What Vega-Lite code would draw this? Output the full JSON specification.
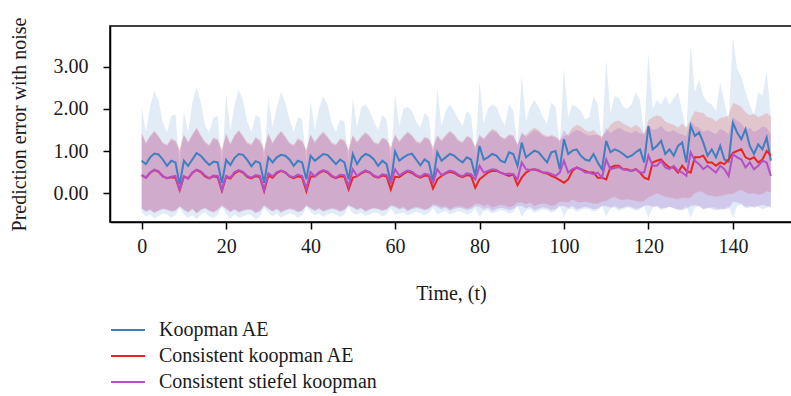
{
"$schema": "https://vega.github.io/schema/vega-lite/v6.json",
"width": 682, "height": 196,
"autosize": {"type": "none"},
"padding": {"left": 110, "top": 26, "right": 0, "bottom": 174},
"background": "white",
"config": {
  "view": {"stroke": "black", "strokeWidth": 1.5},
  "font": "Liberation Serif",
  "axis": {"labelFont": "Liberation Serif", "titleFont": "Liberation Serif", "labelFontSize": 20, "titleFontSize": 20, "titleFontWeight": "normal", "labelColor": "#1a1a1a", "titleColor": "#1a1a1a", "domainColor": "black", "domainWidth": 1.5, "tickColor": "black", "tickWidth": 1.5, "tickSize": 7, "grid": false},
  "legend": {"labelFont": "Liberation Serif", "labelFontSize": 20, "labelColor": "#1a1a1a", "labelLimit": 0}
},
"data": {"values": [
{"t":0,"b":0.77,"bl":-0.45,"bh":2.05,"r":0.43,"rl":-0.35,"rh":1.44,"p":0.43,"pl":-0.37,"ph":1.40},
{"t":1,"b":0.69,"bl":-0.55,"bh":1.45,"r":0.37,"rl":-0.42,"rh":1.20,"p":0.37,"pl":-0.44,"ph":1.17},
{"t":2,"b":0.85,"bl":-0.50,"bh":2.05,"r":0.48,"rl":-0.38,"rh":1.36,"p":0.49,"pl":-0.40,"ph":1.33},
{"t":3,"b":0.94,"bl":-0.60,"bh":2.43,"r":0.55,"rl":-0.45,"rh":1.48,"p":0.56,"pl":-0.47,"ph":1.45},
{"t":4,"b":0.92,"bl":-0.55,"bh":2.19,"r":0.51,"rl":-0.40,"rh":1.36,"p":0.52,"pl":-0.42,"ph":1.33},
{"t":5,"b":0.80,"bl":-0.48,"bh":1.68,"r":0.40,"rl":-0.36,"rh":1.20,"p":0.41,"pl":-0.38,"ph":1.18},
{"t":6,"b":0.65,"bl":-0.50,"bh":1.44,"r":0.36,"rl":-0.38,"rh":1.15,"p":0.35,"pl":-0.40,"ph":1.12},
{"t":7,"b":0.77,"bl":-0.58,"bh":1.83,"r":0.38,"rl":-0.42,"rh":1.30,"p":0.39,"pl":-0.44,"ph":1.27},
{"t":8,"b":0.73,"bl":-0.52,"bh":1.87,"r":0.37,"rl":-0.40,"rh":1.25,"p":0.41,"pl":-0.42,"ph":1.22},
{"t":9,"b":0.21,"bl":-0.35,"bh":0.60,"r":0.07,"rl":-0.30,"rh":1.05,"p":0.09,"pl":-0.32,"ph":1.00},
{"t":10,"b":0.77,"bl":-0.50,"bh":1.95,"r":0.40,"rl":-0.38,"rh":1.40,"p":0.40,"pl":-0.40,"ph":1.37},
{"t":11,"b":0.65,"bl":-0.58,"bh":1.44,"r":0.35,"rl":-0.44,"rh":1.22,"p":0.35,"pl":-0.46,"ph":1.19},
{"t":12,"b":0.80,"bl":-0.52,"bh":2.15,"r":0.48,"rl":-0.36,"rh":1.40,"p":0.49,"pl":-0.38,"ph":1.37},
{"t":13,"b":0.95,"bl":-0.62,"bh":2.51,"r":0.55,"rl":-0.46,"rh":1.56,"p":0.56,"pl":-0.48,"ph":1.52},
{"t":14,"b":0.89,"bl":-0.50,"bh":2.15,"r":0.50,"rl":-0.38,"rh":1.38,"p":0.52,"pl":-0.40,"ph":1.35},
{"t":15,"b":0.77,"bl":-0.45,"bh":1.60,"r":0.40,"rl":-0.34,"rh":1.22,"p":0.42,"pl":-0.36,"ph":1.19},
{"t":16,"b":0.67,"bl":-0.55,"bh":1.44,"r":0.35,"rl":-0.40,"rh":1.15,"p":0.36,"pl":-0.42,"ph":1.12},
{"t":17,"b":0.75,"bl":-0.60,"bh":1.79,"r":0.40,"rl":-0.44,"rh":1.32,"p":0.42,"pl":-0.46,"ph":1.29},
{"t":18,"b":0.73,"bl":-0.50,"bh":1.83,"r":0.38,"rl":-0.38,"rh":1.28,"p":0.41,"pl":-0.40,"ph":1.25},
{"t":19,"b":0.24,"bl":-0.33,"bh":0.60,"r":0.06,"rl":-0.28,"rh":1.05,"p":0.08,"pl":-0.30,"ph":1.00},
{"t":20,"b":0.79,"bl":-0.48,"bh":2.35,"r":0.39,"rl":-0.36,"rh":1.42,"p":0.41,"pl":-0.38,"ph":1.38},
{"t":21,"b":0.67,"bl":-0.60,"bh":1.50,"r":0.35,"rl":-0.43,"rh":1.18,"p":0.37,"pl":-0.45,"ph":1.15},
{"t":22,"b":0.84,"bl":-0.50,"bh":2.10,"r":0.47,"rl":-0.37,"rh":1.38,"p":0.50,"pl":-0.39,"ph":1.35},
{"t":23,"b":0.93,"bl":-0.58,"bh":2.45,"r":0.53,"rl":-0.44,"rh":1.50,"p":0.55,"pl":-0.46,"ph":1.47},
{"t":24,"b":0.91,"bl":-0.55,"bh":2.20,"r":0.49,"rl":-0.40,"rh":1.36,"p":0.51,"pl":-0.42,"ph":1.33},
{"t":25,"b":0.79,"bl":-0.50,"bh":1.70,"r":0.39,"rl":-0.37,"rh":1.20,"p":0.41,"pl":-0.39,"ph":1.17},
{"t":26,"b":0.64,"bl":-0.52,"bh":1.45,"r":0.35,"rl":-0.38,"rh":1.16,"p":0.37,"pl":-0.40,"ph":1.13},
{"t":27,"b":0.76,"bl":-0.62,"bh":1.85,"r":0.41,"rl":-0.45,"rh":1.33,"p":0.43,"pl":-0.47,"ph":1.30},
{"t":28,"b":0.72,"bl":-0.55,"bh":1.80,"r":0.38,"rl":-0.41,"rh":1.26,"p":0.41,"pl":-0.43,"ph":1.23},
{"t":29,"b":0.25,"bl":-0.35,"bh":0.70,"r":0.05,"rl":-0.28,"rh":1.05,"p":0.08,"pl":-0.30,"ph":1.00},
{"t":30,"b":0.85,"bl":-0.45,"bh":2.25,"r":0.42,"rl":-0.35,"rh":1.42,"p":0.47,"pl":-0.37,"ph":1.38},
{"t":31,"b":0.73,"bl":-0.55,"bh":1.55,"r":0.37,"rl":-0.42,"rh":1.20,"p":0.40,"pl":-0.44,"ph":1.17},
{"t":32,"b":0.85,"bl":-0.48,"bh":2.05,"r":0.48,"rl":-0.36,"rh":1.36,"p":0.50,"pl":-0.38,"ph":1.33},
{"t":33,"b":0.91,"bl":-0.58,"bh":2.40,"r":0.53,"rl":-0.44,"rh":1.48,"p":0.54,"pl":-0.46,"ph":1.45},
{"t":34,"b":0.89,"bl":-0.52,"bh":2.15,"r":0.49,"rl":-0.39,"rh":1.35,"p":0.50,"pl":-0.41,"ph":1.32},
{"t":35,"b":0.80,"bl":-0.48,"bh":1.75,"r":0.40,"rl":-0.36,"rh":1.20,"p":0.41,"pl":-0.38,"ph":1.17},
{"t":36,"b":0.65,"bl":-0.50,"bh":1.45,"r":0.36,"rl":-0.38,"rh":1.15,"p":0.38,"pl":-0.40,"ph":1.12},
{"t":37,"b":0.77,"bl":-0.58,"bh":1.80,"r":0.40,"rl":-0.43,"rh":1.30,"p":0.44,"pl":-0.45,"ph":1.27},
{"t":38,"b":0.73,"bl":-0.52,"bh":1.75,"r":0.37,"rl":-0.40,"rh":1.25,"p":0.41,"pl":-0.42,"ph":1.22},
{"t":39,"b":0.33,"bl":-0.32,"bh":0.70,"r":0.05,"rl":-0.28,"rh":1.05,"p":0.12,"pl":-0.30,"ph":1.00},
{"t":40,"b":0.89,"bl":-0.45,"bh":2.20,"r":0.40,"rl":-0.34,"rh":1.40,"p":0.50,"pl":-0.36,"ph":1.37},
{"t":41,"b":0.77,"bl":-0.52,"bh":1.50,"r":0.40,"rl":-0.40,"rh":1.22,"p":0.40,"pl":-0.42,"ph":1.19},
{"t":42,"b":0.85,"bl":-0.48,"bh":2.00,"r":0.48,"rl":-0.35,"rh":1.36,"p":0.50,"pl":-0.37,"ph":1.33},
{"t":43,"b":0.93,"bl":-0.56,"bh":2.30,"r":0.53,"rl":-0.42,"rh":1.46,"p":0.55,"pl":-0.44,"ph":1.43},
{"t":44,"b":0.91,"bl":-0.50,"bh":2.10,"r":0.49,"rl":-0.38,"rh":1.35,"p":0.51,"pl":-0.40,"ph":1.32},
{"t":45,"b":0.80,"bl":-0.46,"bh":1.65,"r":0.40,"rl":-0.35,"rh":1.20,"p":0.42,"pl":-0.37,"ph":1.17},
{"t":46,"b":0.69,"bl":-0.50,"bh":1.45,"r":0.36,"rl":-0.37,"rh":1.16,"p":0.37,"pl":-0.39,"ph":1.13},
{"t":47,"b":0.80,"bl":-0.56,"bh":1.75,"r":0.40,"rl":-0.42,"rh":1.30,"p":0.44,"pl":-0.44,"ph":1.27},
{"t":48,"b":0.73,"bl":-0.50,"bh":1.70,"r":0.39,"rl":-0.38,"rh":1.26,"p":0.43,"pl":-0.40,"ph":1.23},
{"t":49,"b":0.33,"bl":-0.32,"bh":0.70,"r":0.09,"rl":-0.27,"rh":1.05,"p":0.17,"pl":-0.29,"ph":1.00},
{"t":50,"b":0.93,"bl":-0.48,"bh":2.26,"r":0.37,"rl":-0.32,"rh":1.38,"p":0.57,"pl":-0.34,"ph":1.35},
{"t":51,"b":0.69,"bl":-0.50,"bh":1.55,"r":0.40,"rl":-0.38,"rh":1.22,"p":0.41,"pl":-0.40,"ph":1.19},
{"t":52,"b":0.85,"bl":-0.46,"bh":2.05,"r":0.47,"rl":-0.34,"rh":1.35,"p":0.49,"pl":-0.36,"ph":1.32},
{"t":53,"b":0.93,"bl":-0.54,"bh":2.10,"r":0.52,"rl":-0.42,"rh":1.45,"p":0.54,"pl":-0.44,"ph":1.42},
{"t":54,"b":0.89,"bl":-0.50,"bh":1.95,"r":0.49,"rl":-0.37,"rh":1.36,"p":0.50,"pl":-0.39,"ph":1.33},
{"t":55,"b":0.80,"bl":-0.45,"bh":1.70,"r":0.40,"rl":-0.34,"rh":1.22,"p":0.42,"pl":-0.36,"ph":1.19},
{"t":56,"b":0.65,"bl":-0.48,"bh":1.50,"r":0.37,"rl":-0.36,"rh":1.18,"p":0.38,"pl":-0.38,"ph":1.15},
{"t":57,"b":0.77,"bl":-0.55,"bh":1.85,"r":0.42,"rl":-0.40,"rh":1.32,"p":0.45,"pl":-0.42,"ph":1.29},
{"t":58,"b":0.69,"bl":-0.50,"bh":1.75,"r":0.40,"rl":-0.37,"rh":1.28,"p":0.43,"pl":-0.39,"ph":1.25},
{"t":59,"b":0.25,"bl":-0.35,"bh":0.70,"r":0.09,"rl":-0.28,"rh":1.10,"p":0.24,"pl":-0.30,"ph":1.05},
{"t":60,"b":0.99,"bl":-0.50,"bh":2.33,"r":0.39,"rl":-0.30,"rh":1.40,"p":0.57,"pl":-0.33,"ph":1.37},
{"t":61,"b":0.77,"bl":-0.48,"bh":1.60,"r":0.38,"rl":-0.36,"rh":1.24,"p":0.42,"pl":-0.39,"ph":1.21},
{"t":62,"b":0.85,"bl":-0.45,"bh":2.00,"r":0.46,"rl":-0.32,"rh":1.36,"p":0.49,"pl":-0.35,"ph":1.33},
{"t":63,"b":0.91,"bl":-0.52,"bh":2.05,"r":0.52,"rl":-0.40,"rh":1.46,"p":0.54,"pl":-0.43,"ph":1.43},
{"t":64,"b":0.94,"bl":-0.48,"bh":1.95,"r":0.48,"rl":-0.35,"rh":1.38,"p":0.51,"pl":-0.38,"ph":1.35},
{"t":65,"b":0.80,"bl":-0.44,"bh":1.70,"r":0.41,"rl":-0.32,"rh":1.24,"p":0.43,"pl":-0.35,"ph":1.21},
{"t":66,"b":0.66,"bl":-0.47,"bh":1.55,"r":0.37,"rl":-0.34,"rh":1.20,"p":0.39,"pl":-0.37,"ph":1.17},
{"t":67,"b":0.80,"bl":-0.52,"bh":1.90,"r":0.42,"rl":-0.38,"rh":1.34,"p":0.46,"pl":-0.41,"ph":1.31},
{"t":68,"b":0.73,"bl":-0.48,"bh":1.80,"r":0.41,"rl":-0.35,"rh":1.30,"p":0.44,"pl":-0.38,"ph":1.27},
{"t":69,"b":0.29,"bl":-0.35,"bh":0.80,"r":0.11,"rl":-0.26,"rh":1.10,"p":0.25,"pl":-0.29,"ph":1.05},
{"t":70,"b":0.97,"bl":-0.50,"bh":2.49,"r":0.33,"rl":-0.28,"rh":1.38,"p":0.57,"pl":-0.32,"ph":1.35},
{"t":71,"b":0.77,"bl":-0.45,"bh":1.60,"r":0.41,"rl":-0.33,"rh":1.26,"p":0.43,"pl":-0.38,"ph":1.23},
{"t":72,"b":0.85,"bl":-0.42,"bh":1.95,"r":0.47,"rl":-0.30,"rh":1.38,"p":0.49,"pl":-0.34,"ph":1.35},
{"t":73,"b":0.93,"bl":-0.50,"bh":2.10,"r":0.51,"rl":-0.38,"rh":1.48,"p":0.54,"pl":-0.42,"ph":1.45},
{"t":74,"b":0.89,"bl":-0.46,"bh":1.95,"r":0.48,"rl":-0.33,"rh":1.40,"p":0.51,"pl":-0.37,"ph":1.37},
{"t":75,"b":0.80,"bl":-0.42,"bh":1.75,"r":0.42,"rl":-0.30,"rh":1.26,"p":0.44,"pl":-0.34,"ph":1.23},
{"t":76,"b":0.73,"bl":-0.45,"bh":1.60,"r":0.38,"rl":-0.32,"rh":1.22,"p":0.40,"pl":-0.36,"ph":1.19},
{"t":77,"b":0.85,"bl":-0.50,"bh":1.95,"r":0.43,"rl":-0.36,"rh":1.36,"p":0.47,"pl":-0.40,"ph":1.33},
{"t":78,"b":0.80,"bl":-0.46,"bh":1.85,"r":0.41,"rl":-0.33,"rh":1.32,"p":0.45,"pl":-0.37,"ph":1.29},
{"t":79,"b":0.41,"bl":-0.35,"bh":0.90,"r":0.13,"rl":-0.25,"rh":1.10,"p":0.33,"pl":-0.30,"ph":1.08},
{"t":80,"b":1.12,"bl":-0.55,"bh":2.64,"r":0.33,"rl":-0.25,"rh":1.35,"p":0.65,"pl":-0.32,"ph":1.40},
{"t":81,"b":0.80,"bl":-0.42,"bh":1.65,"r":0.41,"rl":-0.30,"rh":1.30,"p":0.49,"pl":-0.38,"ph":1.27},
{"t":82,"b":0.85,"bl":-0.40,"bh":2.00,"r":0.49,"rl":-0.26,"rh":1.42,"p":0.53,"pl":-0.34,"ph":1.39},
{"t":83,"b":0.93,"bl":-0.48,"bh":2.10,"r":0.53,"rl":-0.34,"rh":1.52,"p":0.57,"pl":-0.42,"ph":1.48},
{"t":84,"b":0.89,"bl":-0.44,"bh":2.05,"r":0.53,"rl":-0.30,"rh":1.48,"p":0.55,"pl":-0.37,"ph":1.44},
{"t":85,"b":0.77,"bl":-0.40,"bh":1.80,"r":0.49,"rl":-0.27,"rh":1.35,"p":0.49,"pl":-0.34,"ph":1.32},
{"t":86,"b":0.73,"bl":-0.42,"bh":1.60,"r":0.45,"rl":-0.29,"rh":1.30,"p":0.45,"pl":-0.36,"ph":1.27},
{"t":87,"b":0.97,"bl":-0.48,"bh":2.10,"r":0.41,"rl":-0.33,"rh":1.40,"p":0.47,"pl":-0.40,"ph":1.37},
{"t":88,"b":0.93,"bl":-0.44,"bh":1.95,"r":0.45,"rl":-0.30,"rh":1.38,"p":0.45,"pl":-0.37,"ph":1.35},
{"t":89,"b":0.65,"bl":-0.30,"bh":1.10,"r":0.19,"rl":-0.22,"rh":1.15,"p":0.33,"pl":-0.30,"ph":1.15},
{"t":90,"b":1.20,"bl":-0.55,"bh":2.80,"r":0.37,"rl":-0.22,"rh":1.40,"p":0.73,"pl":-0.30,"ph":1.45},
{"t":91,"b":0.85,"bl":-0.40,"bh":1.70,"r":0.49,"rl":-0.26,"rh":1.38,"p":0.57,"pl":-0.36,"ph":1.32},
{"t":92,"b":0.93,"bl":-0.38,"bh":2.05,"r":0.55,"rl":-0.22,"rh":1.48,"p":0.55,"pl":-0.32,"ph":1.42},
{"t":93,"b":1.01,"bl":-0.46,"bh":2.20,"r":0.57,"rl":-0.30,"rh":1.55,"p":0.57,"pl":-0.40,"ph":1.50},
{"t":94,"b":0.97,"bl":-0.42,"bh":2.05,"r":0.53,"rl":-0.26,"rh":1.50,"p":0.55,"pl":-0.36,"ph":1.45},
{"t":95,"b":0.85,"bl":-0.38,"bh":1.80,"r":0.49,"rl":-0.24,"rh":1.40,"p":0.49,"pl":-0.33,"ph":1.36},
{"t":96,"b":0.73,"bl":-0.40,"bh":1.65,"r":0.47,"rl":-0.26,"rh":1.35,"p":0.49,"pl":-0.35,"ph":1.32},
{"t":97,"b":0.97,"bl":-0.46,"bh":2.15,"r":0.41,"rl":-0.30,"rh":1.38,"p":0.46,"pl":-0.40,"ph":1.35},
{"t":98,"b":1.00,"bl":-0.42,"bh":2.05,"r":0.37,"rl":-0.28,"rh":1.35,"p":0.41,"pl":-0.37,"ph":1.32},
{"t":99,"b":0.57,"bl":-0.30,"bh":1.10,"r":0.31,"rl":-0.20,"rh":1.25,"p":0.49,"pl":-0.30,"ph":1.25},
{"t":100,"b":1.28,"bl":-0.55,"bh":2.96,"r":0.25,"rl":-0.20,"rh":1.35,"p":0.77,"pl":-0.30,"ph":1.50},
{"t":101,"b":0.93,"bl":-0.38,"bh":1.80,"r":0.33,"rl":-0.22,"rh":1.40,"p":0.49,"pl":-0.35,"ph":1.35},
{"t":102,"b":1.01,"bl":-0.36,"bh":2.10,"r":0.53,"rl":-0.15,"rh":1.55,"p":0.57,"pl":-0.30,"ph":1.45},
{"t":103,"b":1.04,"bl":-0.44,"bh":2.05,"r":0.61,"rl":-0.20,"rh":1.62,"p":0.61,"pl":-0.38,"ph":1.50},
{"t":104,"b":0.89,"bl":-0.40,"bh":1.95,"r":0.57,"rl":-0.22,"rh":1.58,"p":0.57,"pl":-0.35,"ph":1.47},
{"t":105,"b":0.80,"bl":-0.36,"bh":1.75,"r":0.53,"rl":-0.20,"rh":1.50,"p":0.49,"pl":-0.32,"ph":1.40},
{"t":106,"b":0.77,"bl":-0.38,"bh":1.80,"r":0.49,"rl":-0.22,"rh":1.45,"p":0.49,"pl":-0.34,"ph":1.36},
{"t":107,"b":0.93,"bl":-0.44,"bh":2.30,"r":0.49,"rl":-0.24,"rh":1.50,"p":0.45,"pl":-0.38,"ph":1.38},
{"t":108,"b":0.73,"bl":-0.40,"bh":2.10,"r":0.37,"rl":-0.25,"rh":1.40,"p":0.49,"pl":-0.36,"ph":1.38},
{"t":109,"b":0.57,"bl":-0.30,"bh":1.20,"r":0.37,"rl":-0.20,"rh":1.35,"p":0.37,"pl":-0.30,"ph":1.30},
{"t":110,"b":1.24,"bl":-0.55,"bh":3.17,"r":0.33,"rl":-0.18,"rh":1.45,"p":0.80,"pl":-0.30,"ph":1.55},
{"t":111,"b":0.97,"bl":-0.36,"bh":1.90,"r":0.61,"rl":-0.12,"rh":1.62,"p":0.57,"pl":-0.34,"ph":1.42},
{"t":112,"b":1.04,"bl":-0.34,"bh":2.30,"r":0.65,"rl":-0.08,"rh":1.70,"p":0.60,"pl":-0.30,"ph":1.50},
{"t":113,"b":1.00,"bl":-0.42,"bh":2.25,"r":0.65,"rl":-0.14,"rh":1.72,"p":0.62,"pl":-0.36,"ph":1.55},
{"t":114,"b":0.93,"bl":-0.38,"bh":2.05,"r":0.57,"rl":-0.16,"rh":1.65,"p":0.57,"pl":-0.34,"ph":1.50},
{"t":115,"b":0.85,"bl":-0.34,"bh":2.00,"r":0.57,"rl":-0.14,"rh":1.60,"p":0.55,"pl":-0.30,"ph":1.45},
{"t":116,"b":0.89,"bl":-0.36,"bh":2.10,"r":0.53,"rl":-0.16,"rh":1.55,"p":0.53,"pl":-0.33,"ph":1.42},
{"t":117,"b":0.97,"bl":-0.42,"bh":2.40,"r":0.57,"rl":-0.18,"rh":1.62,"p":0.57,"pl":-0.37,"ph":1.48},
{"t":118,"b":1.04,"bl":-0.38,"bh":2.20,"r":0.49,"rl":-0.20,"rh":1.55,"p":0.49,"pl":-0.35,"ph":1.42},
{"t":119,"b":0.73,"bl":-0.30,"bh":1.40,"r":0.37,"rl":-0.18,"rh":1.40,"p":0.49,"pl":-0.30,"ph":1.40},
{"t":120,"b":1.59,"bl":-0.58,"bh":3.33,"r":0.33,"rl":-0.10,"rh":1.73,"p":0.89,"pl":-0.28,"ph":1.62},
{"t":121,"b":1.04,"bl":-0.34,"bh":2.00,"r":0.73,"rl":-0.05,"rh":1.80,"p":0.65,"pl":-0.32,"ph":1.50},
{"t":122,"b":1.12,"bl":-0.30,"bh":2.20,"r":0.77,"rl":0.00,"rh":1.85,"p":0.65,"pl":-0.30,"ph":1.52},
{"t":123,"b":1.24,"bl":-0.40,"bh":2.10,"r":0.80,"rl":-0.04,"rh":1.82,"p":0.77,"pl":-0.36,"ph":1.60},
{"t":124,"b":0.93,"bl":-0.36,"bh":2.30,"r":0.69,"rl":-0.08,"rh":1.70,"p":0.61,"pl":-0.34,"ph":1.48},
{"t":125,"b":1.04,"bl":-0.32,"bh":2.10,"r":0.61,"rl":-0.10,"rh":1.65,"p":0.57,"pl":-0.32,"ph":1.45},
{"t":126,"b":0.89,"bl":-0.34,"bh":2.25,"r":0.61,"rl":-0.12,"rh":1.62,"p":0.65,"pl":-0.36,"ph":1.50},
{"t":127,"b":1.12,"bl":-0.40,"bh":2.40,"r":0.49,"rl":-0.14,"rh":1.55,"p":0.53,"pl":-0.38,"ph":1.42},
{"t":128,"b":1.20,"bl":-0.38,"bh":1.95,"r":0.65,"rl":-0.10,"rh":1.65,"p":0.49,"pl":-0.40,"ph":1.40},
{"t":129,"b":0.73,"bl":-0.30,"bh":1.50,"r":0.53,"rl":-0.12,"rh":1.55,"p":0.41,"pl":-0.36,"ph":1.35},
{"t":130,"b":1.60,"bl":-0.58,"bh":3.53,"r":0.49,"rl":-0.10,"rh":1.75,"p":0.97,"pl":-0.30,"ph":1.70},
{"t":131,"b":1.36,"bl":-0.34,"bh":2.40,"r":0.85,"rl":0.00,"rh":1.95,"p":0.77,"pl":-0.28,"ph":1.60},
{"t":132,"b":1.44,"bl":-0.30,"bh":2.70,"r":0.85,"rl":0.05,"rh":1.92,"p":0.69,"pl":-0.30,"ph":1.55},
{"t":133,"b":1.20,"bl":-0.38,"bh":2.30,"r":0.89,"rl":0.02,"rh":1.90,"p":0.57,"pl":-0.38,"ph":1.45},
{"t":134,"b":0.89,"bl":-0.36,"bh":2.15,"r":0.73,"rl":-0.04,"rh":1.80,"p":0.65,"pl":-0.34,"ph":1.50},
{"t":135,"b":1.04,"bl":-0.32,"bh":2.10,"r":0.73,"rl":-0.06,"rh":1.78,"p":0.57,"pl":-0.36,"ph":1.45},
{"t":136,"b":0.85,"bl":-0.34,"bh":1.95,"r":0.65,"rl":-0.08,"rh":1.70,"p":0.49,"pl":-0.40,"ph":1.40},
{"t":137,"b":1.12,"bl":-0.40,"bh":2.62,"r":0.73,"rl":-0.06,"rh":1.78,"p":0.65,"pl":-0.36,"ph":1.52},
{"t":138,"b":0.80,"bl":-0.36,"bh":2.15,"r":0.69,"rl":-0.04,"rh":1.80,"p":0.57,"pl":-0.38,"ph":1.48},
{"t":139,"b":0.75,"bl":-0.30,"bh":1.70,"r":0.80,"rl":-0.02,"rh":1.85,"p":0.41,"pl":-0.36,"ph":1.40},
{"t":140,"b":1.67,"bl":-0.58,"bh":3.69,"r":0.96,"rl":-0.02,"rh":2.14,"p":0.93,"pl":-0.20,"ph":1.80},
{"t":141,"b":1.44,"bl":-0.30,"bh":2.95,"r":1.00,"rl":0.05,"rh":2.10,"p":0.85,"pl":-0.22,"ph":1.72},
{"t":142,"b":1.28,"bl":-0.28,"bh":2.75,"r":1.04,"rl":0.08,"rh":2.05,"p":0.80,"pl":-0.25,"ph":1.65},
{"t":143,"b":1.52,"bl":-0.36,"bh":2.40,"r":0.85,"rl":0.02,"rh":1.92,"p":0.61,"pl":-0.32,"ph":1.50},
{"t":144,"b":1.12,"bl":-0.34,"bh":2.10,"r":0.80,"rl":-0.02,"rh":1.85,"p":0.73,"pl":-0.30,"ph":1.55},
{"t":145,"b":0.93,"bl":-0.30,"bh":1.85,"r":0.85,"rl":0.00,"rh":1.88,"p":0.57,"pl":-0.34,"ph":1.45},
{"t":146,"b":1.16,"bl":-0.32,"bh":2.40,"r":0.73,"rl":-0.04,"rh":1.80,"p":0.65,"pl":-0.30,"ph":1.50},
{"t":147,"b":1.04,"bl":-0.38,"bh":2.30,"r":0.80,"rl":-0.02,"rh":1.85,"p":0.77,"pl":-0.28,"ph":1.58},
{"t":148,"b":1.32,"bl":-0.34,"bh":2.88,"r":1.00,"rl":0.05,"rh":1.90,"p":0.73,"pl":-0.30,"ph":1.55},
{"t":149,"b":0.77,"bl":-0.30,"bh":1.82,"r":0.89,"rl":0.02,"rh":1.82,"p":0.41,"pl":-0.34,"ph":1.40}
]},
"encoding": {
  "x": {"field": "t", "type": "quantitative", "scale": {"domain": [-7.5, 154], "nice": false, "zero": false}, "axis": {"values": [0, 20, 40, 60, 80, 100, 120, 140], "title": "Time, (t)", "labelPadding": 7, "titlePadding": 27}}
},
"layer": [
  {"mark": {"type": "area", "color": "#aac8e6", "opacity": 0.35}, "encoding": {"y": {"field": "bl", "type": "quantitative", "scale": {"domain": [-0.68, 3.96], "nice": false, "zero": false}, "axis": {"values": [0, 1, 2, 3], "format": ".2f", "title": "Prediction error with noise", "labelPadding": 15, "titlePadding": 24}}, "y2": {"field": "bh"}}},
  {"mark": {"type": "area", "color": "#e41a1c", "opacity": 0.18}, "encoding": {"y": {"field": "rl", "type": "quantitative"}, "y2": {"field": "rh"}}},
  {"mark": {"type": "area", "color": "#9c4dc4", "opacity": 0.22}, "encoding": {"y": {"field": "pl", "type": "quantitative"}, "y2": {"field": "ph"}}},
  {"mark": {"type": "line", "strokeWidth": 2}, "encoding": {"y": {"field": "b", "type": "quantitative"}, "color": {"datum": "Koopman AE", "type": "nominal", "scale": {"domain": ["Koopman AE", "Consistent koopman AE", "Consistent stiefel koopman"], "range": ["#3d7fbf", "#e8251f", "#b44fc8"]}, "legend": {"title": null, "orient": "none", "legendX": 4.5, "legendY": 290.5, "symbolType": "M-1.36,0H1.36", "symbolSize": 625, "symbolStrokeWidth": 2, "symbolFillColor": "transparent", "rowPadding": 2, "padding": 0, "labelOffset": 17.5, "labelLimit": 0}}}},
  {"mark": {"type": "line", "strokeWidth": 2}, "encoding": {"y": {"field": "r", "type": "quantitative"}, "color": {"datum": "Consistent koopman AE", "type": "nominal"}}},
  {"mark": {"type": "line", "strokeWidth": 2}, "encoding": {"y": {"field": "p", "type": "quantitative"}, "color": {"datum": "Consistent stiefel koopman", "type": "nominal"}}}
]
}
